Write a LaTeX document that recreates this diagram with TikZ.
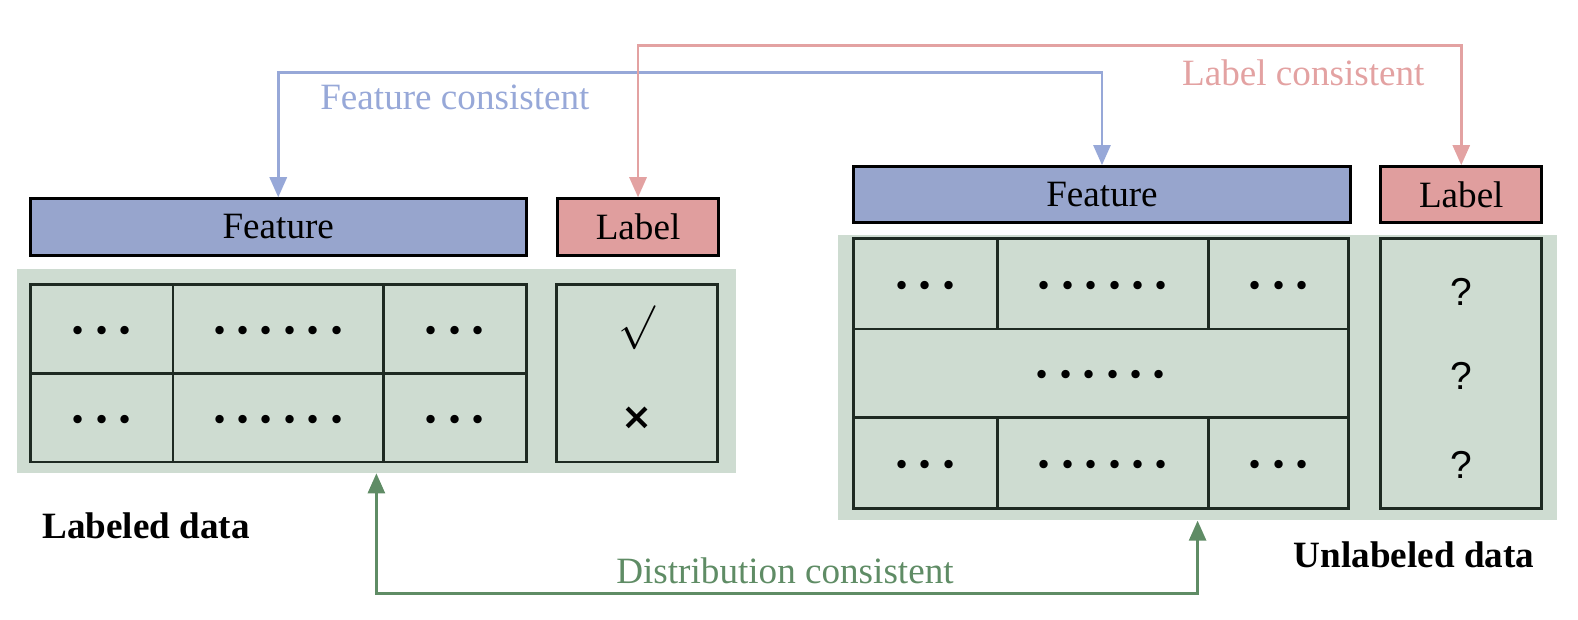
\documentclass[tikz,border=0pt]{standalone}
\usepackage{fontspec}
\setmainfont{Liberation Serif}
\newfontfamily\qfont{Liberation Sans}
\newfontfamily\symfont{DejaVu Sans}
\usetikzlibrary{arrows.meta}
\definecolor{featfill}{HTML}{97A5CD}
\definecolor{labfill}{HTML}{E09E9E}
\definecolor{featblue}{HTML}{97A8D8}
\definecolor{labred}{HTML}{E3A2A2}
\definecolor{bggreen}{HTML}{CEDCD1}
\definecolor{distgreen}{HTML}{5F8C65}
\definecolor{cellline}{HTML}{1E2A22}
\tikzstyle{head}=[rectangle, draw=black, line width=1.6pt, inner sep=0pt]
\tikzstyle{feat}=[head, fill=featfill, minimum height=1.12cm]
\tikzstyle{lab}=[head, fill=labfill, minimum height=1.12cm, minimum width=3.2cm]
\tikzstyle{bg}=[rectangle, fill=bggreen, inner sep=0pt, minimum width=14.28cm]
\tikzstyle{cell}=[rectangle, draw=cellline, line width=1.5pt, inner sep=0pt, text height=21pt, text depth=0pt, font=\bfseries\fontsize{29}{30}\selectfont]
\tikzstyle{sym}=[inner sep=0pt]
\tikzstyle{caption}=[inner sep=0pt, font=\bfseries]
\tikzstyle{link}=[line width=1.5pt, <->]
\newcommand{\dg}{\kern3.6pt}
\newcommand{\dotsthree}{·\dg·\dg·}
\newcommand{\dotssix}{·\dg·\dg·\dg·\dg·\dg·}
\begin{document}
\fontsize{21}{25}\selectfont
\begin{tikzpicture}[x=0.02cm, y=0.02cm, >={Triangle[width=0.34cm,length=0.4cm]}]
	\useasboundingbox (0,0) rectangle (1568,616);
	%The green backgrounds
	\draw (374,247.5) node[bg, minimum height=4.06cm] (bgL) {};
	\draw (1190,241) node[bg, minimum height=5.68cm] (bgR) {};
	
	%The labeled data
	\draw (276.5,390.5) node[feat, minimum width=9.86cm] (featL) {Feature};
	\draw (634,390.5) node[lab] (labL) {Label};
	\draw (101,289) node[cell, minimum width=2.84cm, minimum height=1.76cm] (l11) {\dotsthree};
	\draw (276.5,289) node[cell, minimum width=4.18cm, minimum height=1.76cm] (l12) {\dotssix};
	\draw (452,289) node[cell, minimum width=2.84cm, minimum height=1.76cm] (l13) {\dotsthree};
	\draw (101,201) node[cell, minimum width=2.84cm, minimum height=1.76cm] (l21) {\dotsthree};
	\draw (276.5,201) node[cell, minimum width=4.18cm, minimum height=1.76cm] (l22) {\dotssix};
	\draw (452,201) node[cell, minimum width=2.84cm, minimum height=1.76cm] (l23) {\dotsthree};
	\draw (633,245) node[cell, minimum width=3.2cm, minimum height=3.52cm] (lcol) {};
	\draw (633,290) node[sym, font=\fontsize{27}{28}\selectfont] (yes) {$\surd$};
	\draw (633,200) node[sym, font=\symfont\bfseries\fontsize{21}{24}\selectfont] (no) {×};
	\draw (145,94) node[caption] (capL) {Labeled data};
	
	%The unlabeled data
	\draw (1095,422.5) node[feat, minimum width=9.88cm] (featR) {Feature};
	\draw (1452,422.5) node[lab] (labR) {Label};
	\draw (919.5,334) node[cell, minimum width=2.86cm, minimum height=1.8cm] (r11) {\dotsthree};
	\draw (1096,334) node[cell, minimum width=4.2cm, minimum height=1.8cm] (r12) {\dotssix};
	\draw (1270.5,334) node[cell, minimum width=2.78cm, minimum height=1.8cm] (r13) {\dotsthree};
	\draw (1094,245) node[cell, minimum width=9.84cm, minimum height=1.76cm] (r2) {\dotssix};
	\draw (919.5,156) node[cell, minimum width=2.86cm, minimum height=1.8cm] (r31) {\dotsthree};
	\draw (1096,156) node[cell, minimum width=4.2cm, minimum height=1.8cm] (r32) {\dotssix};
	\draw (1270.5,156) node[cell, minimum width=2.78cm, minimum height=1.8cm] (r33) {\dotsthree};
	\draw (1452,245) node[cell, minimum width=3.2cm, minimum height=5.36cm] (rcol) {};
	\draw (1452,326) node[sym, font=\qfont\fontsize{22}{25}\selectfont] (q1) {?};
	\draw (1452,242) node[sym, font=\qfont\fontsize{22}{25}\selectfont] (q2) {?};
	\draw (1452,154) node[sym, font=\qfont\fontsize{22}{25}\selectfont] (q3) {?};
	\draw (1405,65) node[caption] (capR) {Unlabeled data};
	
	%The consistency links
	\coordinate (fc) at (700,544);
	\coordinate (lc) at (1000,571);
	\coordinate (dc) at (780,26);
	\draw[link, draw=featblue] (featL.north) |- (fc) -| (featR.north);
	\draw[link, draw=labred] (labL.north) |- (lc) -| (labR.north);
	\draw[link, draw=distgreen] (bgL.south) |- (dc) -| (bgR.south);
	\draw (452,519) node[text=featblue] (ftxt) {Feature consistent};
	\draw (1295,544) node[text=labred] (ltxt) {Label consistent};
	\draw (780,49) node[text=distgreen] (dtxt) {Distribution consistent};
\end{tikzpicture}
\end{document}
